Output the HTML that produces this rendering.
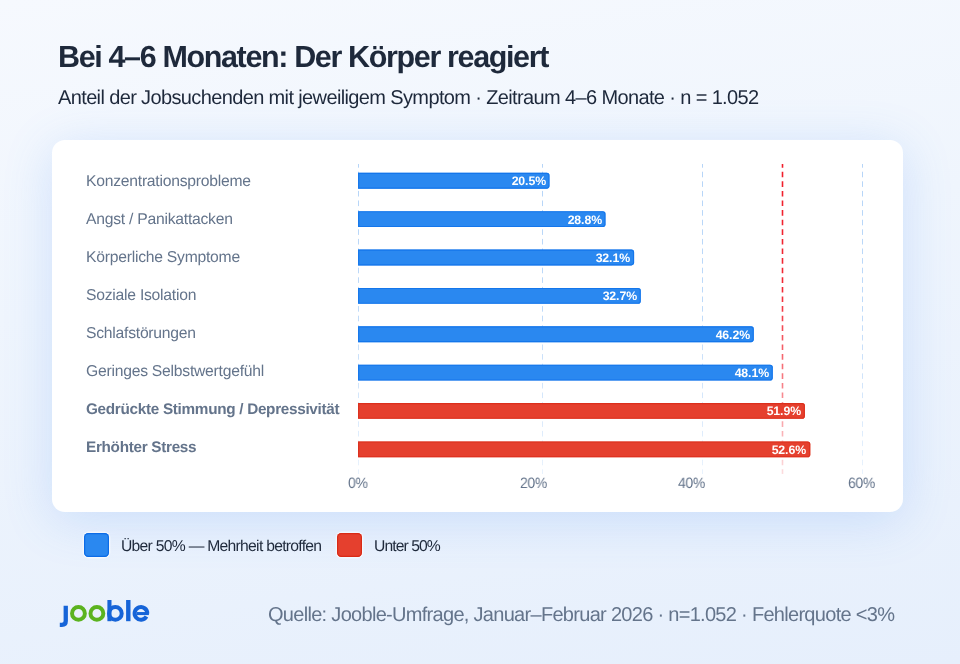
<!DOCTYPE html>
<html><head><meta charset="utf-8">
<style>
*{margin:0;padding:0;box-sizing:border-box}
html,body{width:960px;height:664px;overflow:hidden}
body{position:relative;font-family:"Liberation Sans",sans-serif;text-rendering:geometricPrecision;background:linear-gradient(172deg,#f6f9fe 0%,#eff5fd 40%,#e6effc 100%)}
.t{position:absolute;white-space:nowrap;line-height:1}
.t,.lab,.ax,.leg,#src,.bar{will-change:transform}
#title{left:58px;top:42.2px;font-size:30.5px;font-weight:bold;color:#1e293b;letter-spacing:-1.36px}
#sub{left:58px;top:88.0px;font-size:20px;color:#1e293b;letter-spacing:-0.63px}
#card{position:absolute;left:52px;top:140px;width:850.5px;height:372px;background:#fff;border-radius:13px;box-shadow:0 8px 50px rgba(70,140,245,0.2)}
.lab{position:absolute;left:86px;font-size:15.7px;color:#64748b;white-space:nowrap;line-height:1;letter-spacing:-0.24px}
.lab.b{font-weight:bold;font-size:15.3px;letter-spacing:-0.3px}
.bar{position:absolute;left:358px;height:15.8px;border-radius:0 3px 3px 0}
.blue{background:#2a88f0}
.red{background:#e5402e}
.val{position:absolute;width:200px;text-align:right;line-height:15.8px;will-change:transform;font-size:12.3px;font-weight:bold;color:#fff;white-space:nowrap;letter-spacing:-0.1px}
.ax{position:absolute;top:475.55px;font-size:15.0px;color:#64748b;line-height:1;white-space:nowrap;letter-spacing:-0.3px;transform:scaleX(0.93);transform-origin:0 0}
.sq{position:absolute;top:532.7px;width:25.1px;height:24.7px;border-radius:4.5px}
.leg{position:absolute;top:538.71px;font-size:15.7px;color:#1e293b;line-height:1;white-space:nowrap}
#src{position:absolute;left:268px;top:605.12px;font-size:20px;color:#64748b;line-height:1;white-space:nowrap;letter-spacing:-0.7px}
</style></head><body>
<div id="title" class="t">Bei 4–6 Monaten: Der Körper reagiert</div>
<div id="sub" class="t">Anteil der Jobsuchenden mit jeweiligem Symptom · Zeitraum 4–6 Monate · n = 1.052</div>
<div id="card"></div>
<svg style="position:absolute;left:0;top:0" width="960" height="664">
<defs><linearGradient id="rg" gradientUnits="userSpaceOnUse" x1="0" y1="164" x2="0" y2="474">
<stop offset="0" stop-color="#f01d2a" stop-opacity="1"/><stop offset="0.4" stop-color="#f01d2a" stop-opacity="0.95"/><stop offset="0.72" stop-color="#f01d2a" stop-opacity="0.55"/><stop offset="1" stop-color="#f01d2a" stop-opacity="0.15"/></linearGradient>
<linearGradient id="bg2" gradientUnits="userSpaceOnUse" x1="0" y1="164" x2="0" y2="474">
<stop offset="0" stop-color="#b6d5f8" stop-opacity="1"/><stop offset="0.45" stop-color="#b6d5f8" stop-opacity="0.9"/><stop offset="1" stop-color="#b6d5f8" stop-opacity="0.3"/></linearGradient></defs>
<g stroke="url(#bg2)" stroke-width="1" stroke-dasharray="5.6 4" stroke-dashoffset="1.9">
<line x1="358.5" y1="164" x2="358.5" y2="474"/>
<line x1="542.5" y1="164" x2="542.5" y2="474"/>
<line x1="702.5" y1="164" x2="702.5" y2="474"/>
<line x1="862.5" y1="164" x2="862.5" y2="474"/>
</g>
<line x1="782.5" y1="164" x2="782.5" y2="474" stroke="url(#rg)" stroke-width="1.6" stroke-dasharray="5.6 4" stroke-dashoffset="1.9"/>
</svg>
<div class="lab" style="top:174.04px">Konzentrationsprobleme</div>
<div class="lab" style="top:211.99px">Angst / Panikattacken</div>
<div class="lab" style="top:249.94px">Körperliche Symptome</div>
<div class="lab" style="top:287.89px">Soziale Isolation</div>
<div class="lab" style="top:325.84px">Schlafstörungen</div>
<div class="lab" style="top:363.79px">Geringes Selbstwertgefühl</div>
<div class="lab b" style="top:402.08px">Gedrückte Stimmung / Depressivität</div>
<div class="lab b" style="top:440.03px">Erhöhter Stress</div>
<svg style="position:absolute;left:0;top:0" width="960" height="664"><clipPath id="cb0"><path d="M358.05 172.85 H546.70 Q549.50 172.85 549.50 175.65 V185.85 Q549.50 188.65 546.70 188.65 H358.05 Z"/></clipPath><path fill="#2a88f0" d="M358.05 172.85 H546.70 Q549.50 172.85 549.50 175.65 V185.85 Q549.50 188.65 546.70 188.65 H358.05 Z"/><path fill="none" stroke="#0f72ea" stroke-opacity="0.8" stroke-width="2.2" clip-path="url(#cb0)" d="M358.05 172.85 H546.70 Q549.50 172.85 549.50 175.65 V185.85 Q549.50 188.65 546.70 188.65 H358.05 Z"/><clipPath id="cb1"><path d="M358.05 211.22 H602.70 Q605.50 211.22 605.50 214.02 V224.22 Q605.50 227.02 602.70 227.02 H358.05 Z"/></clipPath><path fill="#2a88f0" d="M358.05 211.22 H602.70 Q605.50 211.22 605.50 214.02 V224.22 Q605.50 227.02 602.70 227.02 H358.05 Z"/><path fill="none" stroke="#0f72ea" stroke-opacity="0.8" stroke-width="2.2" clip-path="url(#cb1)" d="M358.05 211.22 H602.70 Q605.50 211.22 605.50 214.02 V224.22 Q605.50 227.02 602.70 227.02 H358.05 Z"/><clipPath id="cb2"><path d="M358.05 249.59 H631.30 Q634.10 249.59 634.10 252.39 V262.59 Q634.10 265.39 631.30 265.39 H358.05 Z"/></clipPath><path fill="#2a88f0" d="M358.05 249.59 H631.30 Q634.10 249.59 634.10 252.39 V262.59 Q634.10 265.39 631.30 265.39 H358.05 Z"/><path fill="none" stroke="#0f72ea" stroke-opacity="0.8" stroke-width="2.2" clip-path="url(#cb2)" d="M358.05 249.59 H631.30 Q634.10 249.59 634.10 252.39 V262.59 Q634.10 265.39 631.30 265.39 H358.05 Z"/><clipPath id="cb3"><path d="M358.05 287.96 H638.00 Q640.80 287.96 640.80 290.76 V300.96 Q640.80 303.76 638.00 303.76 H358.05 Z"/></clipPath><path fill="#2a88f0" d="M358.05 287.96 H638.00 Q640.80 287.96 640.80 290.76 V300.96 Q640.80 303.76 638.00 303.76 H358.05 Z"/><path fill="none" stroke="#0f72ea" stroke-opacity="0.8" stroke-width="2.2" clip-path="url(#cb3)" d="M358.05 287.96 H638.00 Q640.80 287.96 640.80 290.76 V300.96 Q640.80 303.76 638.00 303.76 H358.05 Z"/><clipPath id="cb4"><path d="M358.05 326.33 H751.00 Q753.80 326.33 753.80 329.13 V339.33 Q753.80 342.13 751.00 342.13 H358.05 Z"/></clipPath><path fill="#2a88f0" d="M358.05 326.33 H751.00 Q753.80 326.33 753.80 329.13 V339.33 Q753.80 342.13 751.00 342.13 H358.05 Z"/><path fill="none" stroke="#0f72ea" stroke-opacity="0.8" stroke-width="2.2" clip-path="url(#cb4)" d="M358.05 326.33 H751.00 Q753.80 326.33 753.80 329.13 V339.33 Q753.80 342.13 751.00 342.13 H358.05 Z"/><clipPath id="cb5"><path d="M358.05 364.70 H770.00 Q772.80 364.70 772.80 367.50 V377.70 Q772.80 380.50 770.00 380.50 H358.05 Z"/></clipPath><path fill="#2a88f0" d="M358.05 364.70 H770.00 Q772.80 364.70 772.80 367.50 V377.70 Q772.80 380.50 770.00 380.50 H358.05 Z"/><path fill="none" stroke="#0f72ea" stroke-opacity="0.8" stroke-width="2.2" clip-path="url(#cb5)" d="M358.05 364.70 H770.00 Q772.80 364.70 772.80 367.50 V377.70 Q772.80 380.50 770.00 380.50 H358.05 Z"/><clipPath id="cb6"><path d="M358.05 403.07 H802.10 Q804.90 403.07 804.90 405.87 V416.07 Q804.90 418.87 802.10 418.87 H358.05 Z"/></clipPath><path fill="#e5402e" d="M358.05 403.07 H802.10 Q804.90 403.07 804.90 405.87 V416.07 Q804.90 418.87 802.10 418.87 H358.05 Z"/><path fill="none" stroke="#da2b18" stroke-opacity="0.8" stroke-width="2.2" clip-path="url(#cb6)" d="M358.05 403.07 H802.10 Q804.90 403.07 804.90 405.87 V416.07 Q804.90 418.87 802.10 418.87 H358.05 Z"/><clipPath id="cb7"><path d="M358.05 441.44 H807.50 Q810.30 441.44 810.30 444.24 V454.44 Q810.30 457.24 807.50 457.24 H358.05 Z"/></clipPath><path fill="#e5402e" d="M358.05 441.44 H807.50 Q810.30 441.44 810.30 444.24 V454.44 Q810.30 457.24 807.50 457.24 H358.05 Z"/><path fill="none" stroke="#da2b18" stroke-opacity="0.8" stroke-width="2.2" clip-path="url(#cb7)" d="M358.05 441.44 H807.50 Q810.30 441.44 810.30 444.24 V454.44 Q810.30 457.24 807.50 457.24 H358.05 Z"/></svg>
<div class="val" style="top:174.25px;left:345.60px">20.5%</div>
<div class="val" style="top:212.62px;left:401.60px">28.8%</div>
<div class="val" style="top:250.99px;left:430.20px">32.1%</div>
<div class="val" style="top:289.36px;left:436.90px">32.7%</div>
<div class="val" style="top:327.73px;left:549.90px">46.2%</div>
<div class="val" style="top:366.10px;left:568.90px">48.1%</div>
<div class="val" style="top:404.47px;left:601.00px">51.9%</div>
<div class="val" style="top:442.84px;left:606.40px">52.6%</div>

<div class="ax" style="left:347.5px">0%</div>
<div class="ax" style="left:519.6px">20%</div>
<div class="ax" style="left:678px">40%</div>
<div class="ax" style="left:847.5px">60%</div>
<div class="sq blue" style="left:84px;box-shadow:inset 0 0 0 1.2px rgba(10,105,230,0.9),0 0 0 1.4px rgba(255,255,255,0.55)"></div>
<div class="leg" style="left:121px;letter-spacing:-0.72px">Über 50% — Mehrheit betroffen</div>
<div class="sq red" style="left:337px;box-shadow:inset 0 0 0 1.2px rgba(215,40,20,0.9),0 0 0 1.4px rgba(255,255,255,0.55)"></div>
<div class="leg" style="left:374px;letter-spacing:-0.92px">Unter 50%</div>
<svg style="position:absolute;left:0;top:0" width="960" height="664" viewBox="0 0 960 664">
<g fill="none" stroke-linecap="butt">
<path d="M65.75 605.8 V621 Q65.75 624.8 61.9 624.8 H59.8" stroke="#1664d8" stroke-width="4.3"/>
<circle cx="78.45" cy="613.4" r="6.42" stroke="#5bb31f" stroke-width="3.95"/>
<circle cx="96.9" cy="613.4" r="6.42" stroke="#5bb31f" stroke-width="3.95"/>
<circle cx="115.35" cy="613.4" r="6.35" stroke="#1664d8" stroke-width="4.0"/>
<path d="M146.45 616.62 A6.35 6.35 0 1 1 147.30 613.45" stroke="#1664d8" stroke-width="4.0"/>
</g>
<g fill="#1664d8">
<rect x="107.4" y="600" width="4.1" height="21.2"/>
<rect x="126.1" y="600" width="4.4" height="21.2"/>
<rect x="136.6" y="612.05" width="12.3" height="3.02"/>
</g>
</svg>
<div id="src">Quelle: Jooble-Umfrage, Januar–Februar 2026 · n=1.052 · Fehlerquote &lt;3%</div>
</body></html>
